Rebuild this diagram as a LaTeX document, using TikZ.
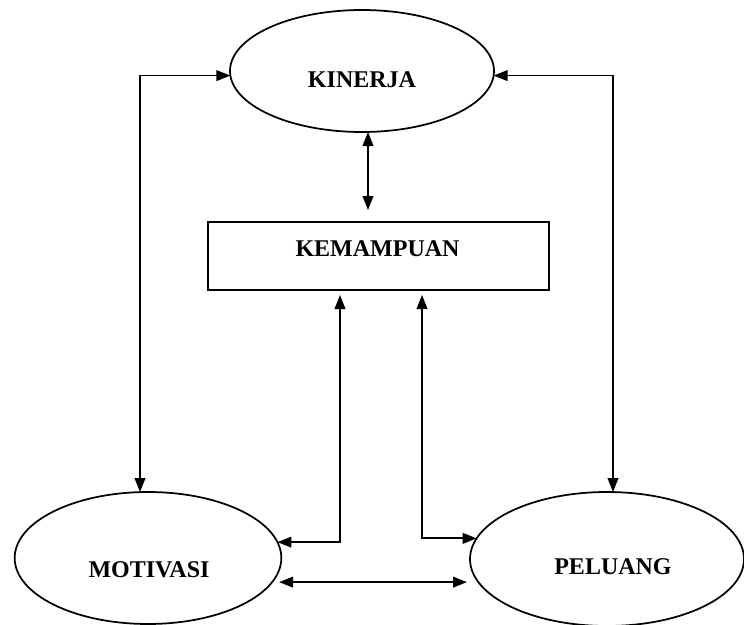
\documentclass[tikz,border=0pt]{standalone}
\usepackage{fontspec}
\setmainfont{Liberation Serif}
\usetikzlibrary{shapes.geometric,arrows.meta,calc}
\begin{document}
\begin{tikzpicture}[x=0.75pt,y=-0.75pt,
  line width=1.3pt,
  oval/.style={draw,ellipse,inner sep=0pt,outer sep=0pt},
  box/.style={draw,rectangle,inner sep=0pt,outer sep=0pt},
  lbl/.style={anchor=base,font=\fontsize{18pt}{20pt}\selectfont\bfseries},
  both/.style={{Triangle[length=10.5pt,width=8pt]}-{Triangle[length=10.5pt,width=8pt]}}]
\useasboundingbox (0,0) rectangle (744,625);

% factors
\node[oval,minimum width=198pt,minimum height=91.5pt] (kin) at (362,71) {};
\node[box,minimum width=255.75pt,minimum height=51pt] (kem) at (378.5,256) {};
\node[oval,minimum width=200pt,minimum height=99pt] (mot) at (148,558) {};
\node[oval,minimum width=205.5pt,minimum height=100.5pt] (pel) at (607,559) {};

% labels
\node[lbl] (kinl) at (362,87) {KINERJA};
\node[lbl] (keml) at (377.5,256) {KEMAMPUAN};
\node[lbl] (motl) at (149,577) {MOTIVASI};
\node[lbl] (pell) at (613,574) {PELUANG};

% connectors
\draw[both] (kin.182) -| ([xshift=-6pt]mot.north);
\draw[both] (kin.-2) -| ([xshift=4.5pt]pel.north);
\draw[both] ($(kin.south)+(6,0)$) -- ($(kin.south |- kem.north)+(6,-12)$);
\draw[both] ($(kem.south)+(-38.5,5)$) |- (mot.7);
\draw[both] ($(kem.south)+(43.5,5)$) |- (pel.171);
\coordinate (bl) at ($(mot.-11)+(7,0)$);
\coordinate (br) at ($(bl -| pel.west)+(-3,0)$);
\draw[both] (bl) -- (br);
\end{tikzpicture}
\end{document}
